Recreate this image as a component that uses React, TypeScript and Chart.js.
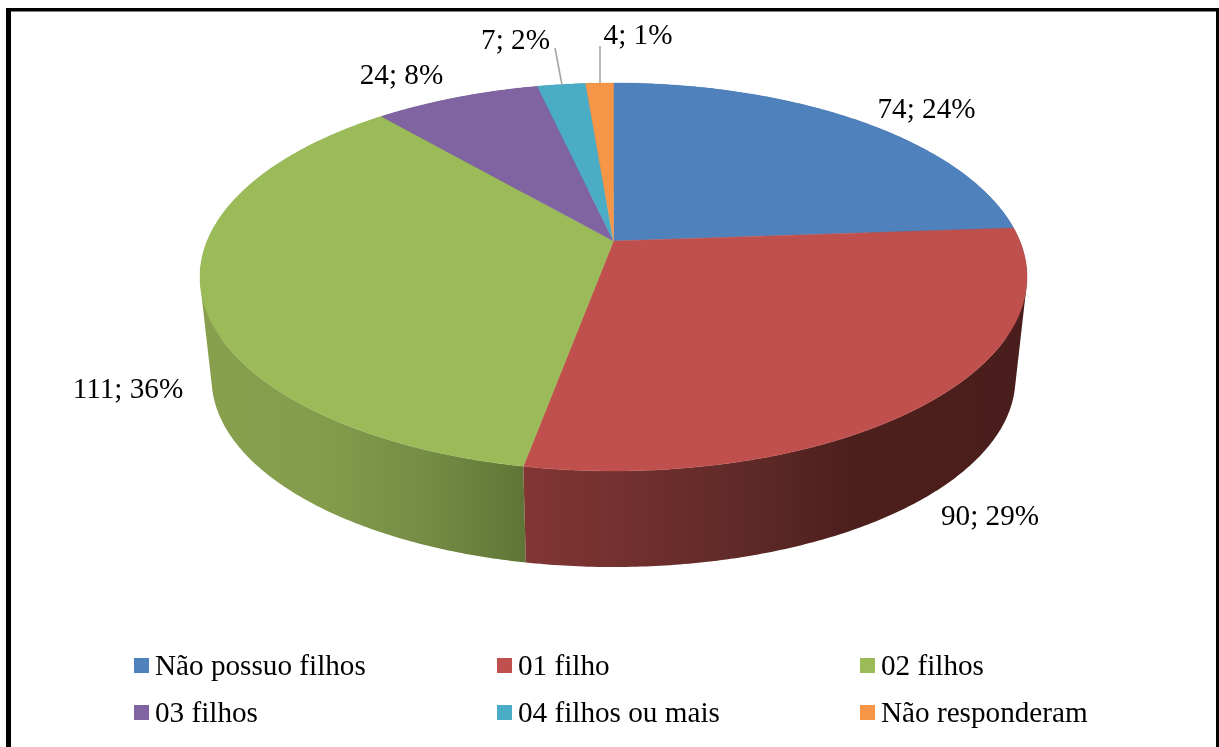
import React, { useEffect, useRef } from "react";
import { Chart, registerables } from "chart.js";

Chart.register(...registerables);

const categories = ["Não possuo filhos", "01 filho", "02 filhos", "03 filhos", "04 filhos ou mais", "Não responderam"];
const counts = [74, 90, 111, 24, 7, 4];
const percents = [24, 29, 36, 8, 2, 1];
const colors = ["#4F81BD", "#C0504D", "#9BBB59", "#8064A2", "#4BACC6", "#F79646"];

// layout of the drawing (not data)
const FONT = '29.2px "Liberation Serif", serif';
const labelAnchors: [number, number][] = [
  [926.5, 118], [990, 525], [128, 398], [401.5, 84], [515.5, 49], [638, 44],
];
const leaders: [number, number, number, number][] = [
  [555, 48, 562, 85],
  [600, 46, 600, 83],
];
const legendCols = [134, 497, 860];
const legendRows = [658, 705];

// perspective projection of the unit circle onto the page
const K = -0.1856, A = 406.3, B = 187.3, CX = 613.5;
const topApexY = 241, botApexY = 343.5, botScale = 0.972;
const project = (t: number, depth: boolean): [number, number] => {
  const u = Math.cos(t), v = Math.sin(t), w = 1 + K * v;
  const s = depth ? botScale : 1;
  return [CX + (s * A * u) / w, (depth ? botApexY : topApexY) + (s * B * v) / w];
};

const wallStops: Record<number, [number, string][]> = {
  0: [[0, "#3d5d86"], [1, "#3d5d86"]],
  1: [[0, "#4a1e1c"], [0.36, "#4d1f1d"], [0.5, "#5a2725"], [0.75, "#6e2f2d"], [1, "#813634"]],
  2: [[0, "#88a04e"], [0.35, "#849d4c"], [0.7, "#748c45"], [1, "#5f7536"]],
  3: [[0, "#5a4672"], [1, "#5a4672"]],
  4: [[0, "#34788a"], [1, "#34788a"]],
  5: [[0, "#ad6931"], [1, "#ad6931"]],
};
const wallRange: Record<number, [number, number]> = {
  1: [1027, 526], 2: [200, 526],
};

const pie3d = {
  id: "pie3d",
  beforeDraw(chart: any) {
    const ctx = chart.ctx;
    ctx.save();
    ctx.fillStyle = "#ffffff";
    ctx.fillRect(0, 0, chart.width, chart.height);
    ctx.fillStyle = "#000000";
    ctx.fillRect(6, 8, 1213, 3.5);
    ctx.fillRect(6, 8, 5, 739);
    ctx.fillRect(1216, 8, 3, 739);
    ctx.restore();
  },
  beforeDatasetDraw(chart: any, args: any) {
    const ctx = chart.ctx;
    const arcs = chart.getDatasetMeta(args.index).data;
    const bg = chart.data.datasets[args.index].backgroundColor;
    const sample = (a: number, b: number) => {
      const n = Math.max(2, Math.ceil(Math.abs(b - a) / 0.01));
      return Array.from({ length: n + 1 }, (_, i) => a + ((b - a) * i) / n);
    };
    ctx.save();
    // side walls: back slices first, front slices last
    for (const i of [0, 5, 4, 3, 2, 1]) {
      const el = arcs[i];
      const ts = sample(el.startAngle, el.endAngle);
      const range = wallRange[i] || [200, 1027];
      const g = ctx.createLinearGradient(range[0], 0, range[1], 0);
      wallStops[i].forEach(([o, c]) => g.addColorStop(o, c));
      ctx.fillStyle = g;
      // every strip goes into one path with the same winding, so no seams show
      ctx.beginPath();
      for (let j = 0; j + 1 < ts.length; j++) {
        let q = [project(ts[j], false), project(ts[j + 1], false), project(ts[j + 1], true), project(ts[j], true)];
        let area = 0;
        q.forEach((p, n) => {
          const r = q[(n + 1) % 4];
          area += p[0] * r[1] - r[0] * p[1];
        });
        if (area < 0) q = q.reverse();
        ctx.moveTo(q[0][0], q[0][1]);
        ctx.lineTo(q[1][0], q[1][1]);
        ctx.lineTo(q[2][0], q[2][1]);
        ctx.lineTo(q[3][0], q[3][1]);
        ctx.closePath();
      }
      ctx.fill();
    }
    // top faces
    arcs.forEach((el: any, i: number) => {
      ctx.beginPath();
      ctx.moveTo(CX, topApexY);
      sample(el.startAngle, el.endAngle).forEach((t) => {
        const [x, y] = project(t, false);
        ctx.lineTo(x, y);
      });
      ctx.closePath();
      ctx.fillStyle = bg[i];
      ctx.strokeStyle = bg[i];
      ctx.lineWidth = 0.4;
      ctx.fill();
      ctx.stroke();
    });
    ctx.restore();
    return false;
  },
  afterDraw(chart: any) {
    const ctx = chart.ctx;
    ctx.save();
    ctx.strokeStyle = "#A6A6A6";
    ctx.lineWidth = 1.6;
    leaders.forEach(([x1, y1, x2, y2]) => {
      ctx.beginPath();
      ctx.moveTo(x1, y1);
      ctx.lineTo(x2, y2);
      ctx.stroke();
    });
    ctx.font = FONT;
    ctx.fillStyle = "#000000";
    ctx.textBaseline = "alphabetic";
    ctx.textAlign = "center";
    counts.forEach((c, i) => {
      ctx.fillText(`${c}; ${percents[i]}%`, labelAnchors[i][0], labelAnchors[i][1]);
    });
    ctx.textAlign = "left";
    categories.forEach((name, i) => {
      const x = legendCols[i % 3], y = legendRows[Math.floor(i / 3)];
      ctx.fillStyle = colors[i];
      ctx.fillRect(x, y, 15, 15);
      ctx.fillStyle = "#000000";
      ctx.fillText(name, x + 21, y + 17);
    });
    ctx.restore();
  },
};

export default function App() {
  const ref = useRef<HTMLCanvasElement>(null);
  useEffect(() => {
    document.body.style.overflow = "hidden";
    const chart = new Chart(ref.current as HTMLCanvasElement, {
      type: "pie",
      data: {
        labels: categories,
        datasets: [{ data: counts, backgroundColor: colors, borderWidth: 0 }],
      },
      options: {
        responsive: false,
        animation: false,
        devicePixelRatio: 1,
        events: [],
        plugins: { legend: { display: false }, tooltip: { enabled: false }, title: { display: false } },
      },
      plugins: [pie3d],
    } as any);
    return () => chart.destroy();
  }, []);
  return (
    <div style={{ position: "fixed", left: 0, top: 0, width: 1219, height: 747 }}>
      <canvas ref={ref} width={1219} height={747} style={{ display: "block" }} />
    </div>
  );
}
